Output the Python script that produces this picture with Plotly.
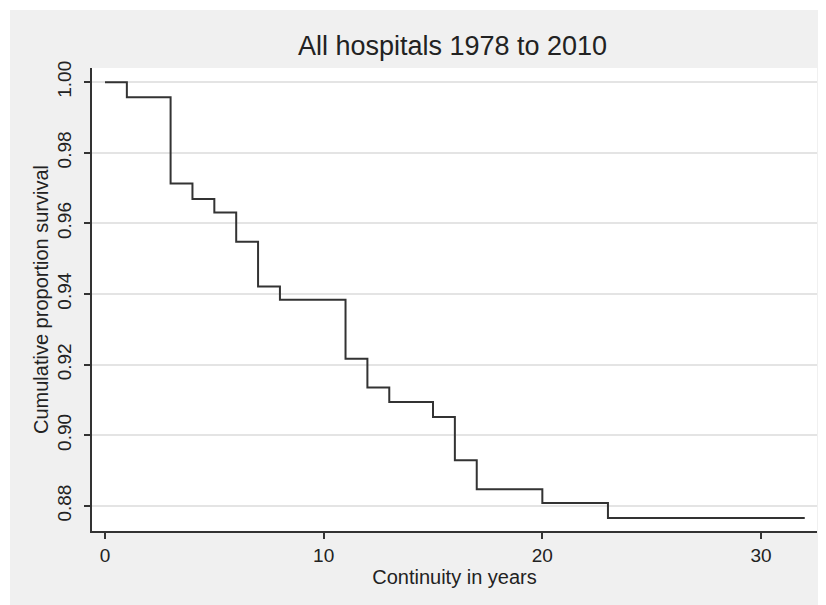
import plotly.graph_objects as go

# Kaplan-Meier step data
times = [0, 1, 3, 4, 5, 6, 7, 8, 11, 12, 13, 15, 16, 17, 20, 23]
survival = [1.0, 0.9957, 0.9713, 0.9669, 0.9631, 0.9548, 0.9421, 0.9384,
            0.9217, 0.9135, 0.9094, 0.9052, 0.8929, 0.8847, 0.8808, 0.8766]
end_time = 32

x_ticks = [0, 10, 20, 30]
y_ticks = [0.88, 0.90, 0.92, 0.94, 0.96, 0.98, 1.00]
y_tick_labels = ["0.88", "0.90", "0.92", "0.94", "0.96", "0.98", "1.00"]

title_text = "All hospitals 1978 to 2010"
x_title = "Continuity in years"
y_title = "Cumulative proportion survival"

# the page places the figure 8px from the top-left corner
W, H = 818, 597
L, R, T, B = 84, 9, 60, 74
FONT = "Liberation Sans, Arial, sans-serif"
TXT = "#222222"
BG = "#f0f0f0"
PW, PH = W - L - R, H - T - B

x_vals = times + [end_time]
y_vals = survival + [survival[-1]]

fig = go.Figure()
fig.add_trace(go.Scatter(
    x=x_vals, y=y_vals, mode="lines", line_shape="hv",
    line=dict(color="#333333", width=2), showlegend=False, hoverinfo="skip"))

fig.update_layout(
    width=W, height=H,
    margin=dict(l=L, r=R, t=T, b=B, pad=0),
    paper_bgcolor=BG, plot_bgcolor="white",
    font=dict(family=FONT, color=TXT, size=19),
    title=dict(text=title_text, font=dict(size=27, color=TXT, family=FONT),
               x=(L + PW / 2 - 2) / W, xanchor="center",
               y=1 - 38 / H, yanchor="middle", yref="container"),
    xaxis=dict(range=[-0.594, 32.56], tickvals=x_ticks, ticktext=[str(v) for v in x_ticks],
               showgrid=False, zeroline=False, showline=True, linecolor="#333333", linewidth=2,
               ticks="outside", ticklen=6, tickwidth=2, tickcolor="#333333",
               tickfont=dict(size=19, color=TXT, family=FONT),
               title=dict(text=x_title, font=dict(size=20, color=TXT, family=FONT), standoff=0)),
    yaxis=dict(range=[0.8729, 1.004], tickvals=y_ticks, ticktext=y_tick_labels,
               showgrid=True, gridcolor="#e4e4e4", gridwidth=2, zeroline=False,
               showline=True, linecolor="#333333", linewidth=2,
               ticks="outside", ticklen=6, tickwidth=2, tickcolor="#333333",
               tickangle=-90, ticklabelstandoff=5,
               tickfont=dict(size=19, color=TXT, family=FONT),
               title=dict(text=y_title, font=dict(size=20, color=TXT, family=FONT), standoff=0)),
    shapes=[
        dict(type="rect", xref="paper", yref="paper", layer="above",
             x0=-L / PW, x1=(W - L) / PW,
             y0=1 + (T - 2) / PH, y1=1 + T / PH,
             fillcolor="white", line=dict(width=0)),
        dict(type="rect", xref="paper", yref="paper", layer="above",
             x0=-L / PW, x1=-(L - 2) / PW,
             y0=-B / PH, y1=1 + T / PH,
             fillcolor="white", line=dict(width=0)),
    ],
)

fig.write_html("out.html")
